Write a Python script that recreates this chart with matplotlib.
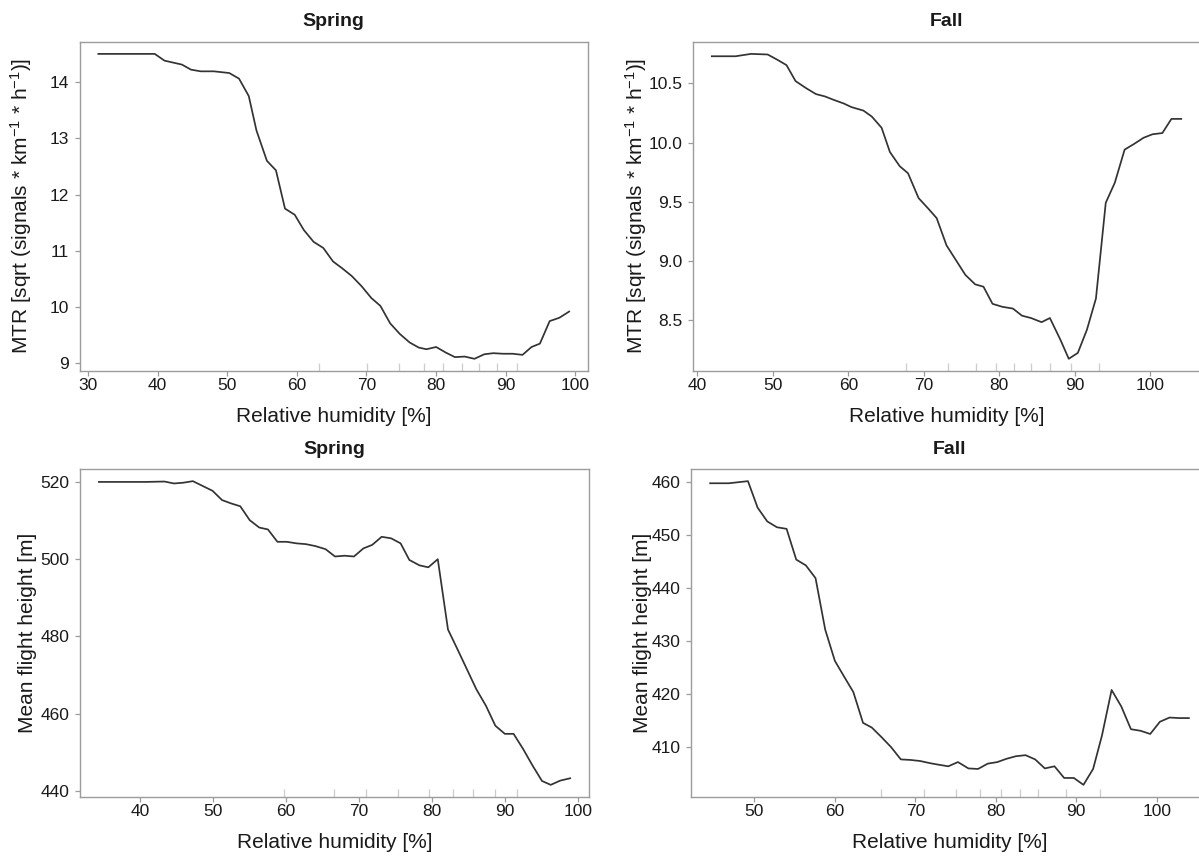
import matplotlib
matplotlib.use("Agg")
import matplotlib.pyplot as plt
from matplotlib.ticker import MultipleLocator, FormatStrFormatter

plt.rcParams['font.family'] = ['Liberation Sans', 'DejaVu Sans']
plt.rcParams['mathtext.fontset'] = 'custom'
plt.rcParams['mathtext.rm'] = 'Liberation Sans'
plt.rcParams['mathtext.it'] = 'Liberation Sans:italic'

# partial dependence, spring MTR
spring_mtr_rh = [31.5, 39.6, 41.0, 43.5, 44.8, 46.2, 48.1, 50.3, 51.7, 53.1, 54.2, 55.7, 57.0,
                 58.3, 59.7, 61.0, 62.4, 63.8, 65.2, 66.5, 67.9, 69.3, 70.7, 72.0, 73.4, 74.8,
                 76.2, 77.5, 78.6, 80.0, 81.4, 82.7, 84.1, 85.5, 86.9, 88.2, 89.6, 91.0, 92.4,
                 93.7, 94.9, 96.3, 97.7, 99.1]
spring_mtr = [14.5, 14.5, 14.38, 14.31, 14.22, 14.19, 14.19, 14.16, 14.06, 13.75, 13.14, 12.6,
              12.43, 11.75, 11.64, 11.37, 11.16, 11.05, 10.81, 10.69, 10.55, 10.37, 10.16, 10.02,
              9.71, 9.52, 9.37, 9.28, 9.25, 9.29, 9.19, 9.11, 9.12, 9.08, 9.16, 9.18, 9.17, 9.17,
              9.15, 9.29, 9.35, 9.75, 9.81, 9.92]
spring_mtr_rug = [63.2, 70.1, 74.7, 78.2, 81.0, 83.7, 86.2, 88.7, 91.6]

# fall MTR
fall_mtr_rh = [41.9, 45.05, 47.1, 49.3, 50.6, 51.8, 53.0, 54.4, 55.7, 56.9, 58.1, 59.4, 60.4,
               62.0, 63.1, 64.4, 65.5, 66.8, 67.9, 69.3, 70.6, 71.7, 73.0, 74.2, 75.5, 76.8,
               77.9, 79.1, 80.4, 81.8, 83.0, 84.2, 85.6, 86.7, 88.1, 89.2, 90.4, 91.6, 92.8,
               94.1, 95.3, 96.6, 97.9, 99.1, 100.3, 101.6, 102.8, 104.1]
fall_mtr = [10.73, 10.73, 10.75, 10.745, 10.70, 10.655, 10.52, 10.46, 10.41, 10.39, 10.36,
            10.33, 10.30, 10.27, 10.22, 10.125, 9.92, 9.80, 9.74, 9.53, 9.44, 9.36, 9.13, 9.01,
            8.88, 8.80, 8.78, 8.635, 8.61, 8.595, 8.535, 8.515, 8.48, 8.515, 8.33, 8.17, 8.22,
            8.415, 8.68, 9.49, 9.66, 9.94, 9.99, 10.04, 10.07, 10.08, 10.2, 10.2]
fall_mtr_rug = [67.7, 73.2, 76.9, 79.5, 82.0, 84.2, 86.7, 89.5, 93.2]

# spring flight height
spring_h_rh = [34.3, 38.1, 40.7, 43.3, 44.6, 45.9, 47.2, 48.6, 49.9, 51.2, 52.5, 53.7, 55.0,
               56.3, 57.5, 58.8, 60.1, 61.4, 62.7, 64.0, 65.4, 66.7, 68.0, 69.3, 70.6, 71.8,
               73.1, 74.4, 75.7, 76.9, 78.3, 79.5, 80.8, 82.2, 83.5, 84.8, 86.1, 87.4, 88.7,
               90.0, 91.2, 92.5, 93.8, 95.1, 96.3, 97.6, 98.96]
spring_h = [520.0, 520.0, 520.0, 520.1, 519.6, 519.8, 520.2, 518.9, 517.7, 515.3, 514.4, 513.7,
            510.1, 508.2, 507.7, 504.5, 504.5, 504.1, 503.9, 503.4, 502.6, 500.7, 500.9, 500.7,
            502.8, 503.7, 505.8, 505.4, 504.1, 499.8, 498.4, 497.9, 500.0, 481.8, 476.7, 471.5,
            466.3, 462.1, 456.9, 454.8, 454.8, 450.9, 446.6, 442.6, 441.6, 442.7, 443.3]
spring_h_rug = [59.7, 66.5, 70.9, 75.3, 79.6, 82.9, 85.6, 88.7, 91.6]

# fall flight height
fall_h_rh = [44.5, 46.8, 49.2, 50.4, 51.6, 52.8, 54.0, 55.2, 56.4, 57.6, 58.8, 60.0, 61.2, 62.3,
             63.5, 64.6, 65.8, 67.0, 68.2, 69.4, 70.6, 71.8, 72.9, 74.1, 75.3, 76.6, 77.8, 79.0,
             80.2, 81.3, 82.5, 83.7, 84.9, 86.1, 87.3, 88.5, 89.7, 90.9, 92.1, 93.2, 94.4, 95.6,
             96.8, 98.0, 99.2, 100.4, 101.6, 102.8, 104.0]
fall_h = [459.7, 459.7, 460.1, 455.1, 452.5, 451.4, 451.1, 445.3, 444.2, 441.8, 432.1, 426.2,
          423.1, 420.3, 414.5, 413.6, 411.8, 409.9, 407.6, 407.5, 407.3, 406.9, 406.6, 406.3,
          407.1, 405.9, 405.8, 406.8, 407.1, 407.7, 408.2, 408.4, 407.6, 405.9, 406.3, 404.1,
          404.1, 402.8, 405.8, 412.1, 420.7, 417.6, 413.3, 413.0, 412.4, 414.7, 415.5, 415.4,
          415.4]
fall_h_rug = [65.7, 71.1, 75.0, 78.0, 80.7, 83.0, 85.3, 88.7, 93.0]

titles = ["Spring", "Fall", "Spring", "Fall"]
mtr_label = r'MTR [sqrt (signals * km$^{-1}$ * h$^{-1}$)]'
height_label = "Mean flight height [m]"
x_label = "Relative humidity [%]"

W, H = 1199, 856
fig = plt.figure(figsize=(W / 100, H / 100), dpi=100)

# box edges in pixels: left, right, top, bottom
boxes = [(79.5, 588, 41.7, 371), (693, 1200, 41.7, 371),
         (80, 589, 469, 797), (691, 1208, 469, 797)]
panels = [
    (spring_mtr_rh, spring_mtr, spring_mtr_rug, mtr_label, 1, None, 58.5),
    (fall_mtr_rh, fall_mtr, fall_mtr_rug, mtr_label, 0.5, '%.1f', 57),
    (spring_h_rh, spring_h, spring_h_rug, height_label, 20, None, 52),
    (fall_h_rh, fall_h, fall_h_rug, height_label, 10, None, 48),
]

axis_col = '#9c9c9c'
for (l, r, t, b), (xs, ys, rug, ylab, ystep, yfmt, ylpad), title in zip(boxes, panels, titles):
    ax = fig.add_axes([l / W, 1 - b / H, (r - l) / W, (b - t) / H])
    wpx, hpx = r - l, b - t
    ax.plot(xs, ys, color='#333333', lw=1.25)
    ax.margins(x=0.04, y=0.04)
    ax.vlines(rug, 0, 8 / hpx, transform=ax.get_xaxis_transform(), color='#cccccc', lw=0.9)
    ax.xaxis.set_major_locator(MultipleLocator(10))
    ax.yaxis.set_major_locator(MultipleLocator(ystep))
    if yfmt:
        ax.yaxis.set_major_formatter(FormatStrFormatter(yfmt))
    for s in ax.spines.values():
        s.set_color(axis_col)
        s.set_linewidth(1.0)
    ax.tick_params(axis='both', direction='out', length=3.6, width=0.9, color=axis_col,
                   labelsize=12.5, labelcolor='#1a1a1a')
    ax.tick_params(axis='x', pad=1.5)
    ax.tick_params(axis='y', pad=4)
    ax.set_xlabel(x_label, fontsize=15, color='#1a1a1a', va='center')
    ax.xaxis.set_label_coords(0.5, -46 / hpx)
    ax.set_ylabel(ylab, fontsize=15, color='#1a1a1a', va='center')
    ax.yaxis.set_label_coords(-ylpad / wpx, 0.5)
    ax.text(0.5, 1 + 20 / hpx, title, transform=ax.transAxes, ha='center', va='center',
            fontsize=14, fontweight='bold', color='#1a1a1a')

plt.savefig("out.png", dpi=100)
